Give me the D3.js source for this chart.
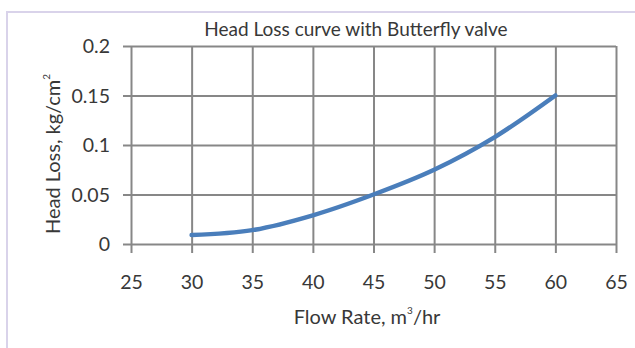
<!DOCTYPE html>
<html>
<head>
<meta charset="utf-8">
<script src="https://cdn.jsdelivr.net/npm/d3@7"></script>
<style>
  html, body { margin: 0; padding: 0; background: #fff; }
  svg { display: block; }
  text { font-family: Lato, "Open Sans", sans-serif; fill: #383838; }
</style>
</head>
<body>
<svg id="chart" width="635" height="348"></svg>
<script>
// Flow rate (m3/hr) and head loss (kg/cm2) for the butterfly valve
const flowRate = [30, 35, 40, 45, 50, 55, 60];
const headLoss = [0.009, 0.014, 0.029, 0.05, 0.075, 0.108, 0.15];
const xTicks = [25, 30, 35, 40, 45, 50, 55, 60, 65];
const yTicks = [0, 0.05, 0.1, 0.15, 0.2];

const svg = d3.select("#chart");

// outer chart frame
svg.append("rect")
  .attr("x", 7).attr("y", 12)
  .attr("width", 640).attr("height", 350)
  .attr("fill", "none")
  .attr("stroke", "#d9d3ea")
  .attr("stroke-width", 2);

const plot = { left: 131, right: 616, top: 46, bottom: 244 };

const x = d3.scaleLinear().domain([25, 65]).range([plot.left, plot.right]);
const y = d3.scaleLinear().domain([0, 0.2]).range([plot.bottom, plot.top]);

const gridColor = "#878787";
const tickFont = 19.5;
const textColor = "#383838";

// vertical gridlines with outward ticks (x axis)
const xAxis = d3.axisBottom(x)
  .tickValues(xTicks)
  .tickSize(-(plot.bottom - plot.top))
  .tickFormat(d3.format("d"));
const gx = svg.append("g")
  .attr("transform", `translate(0,${plot.bottom})`)
  .call(xAxis);
gx.select(".domain").remove();
gx.selectAll(".tick line")
  .attr("stroke", gridColor).attr("stroke-width", 2)
  .attr("y1", 9);
gx.selectAll(".tick text")
  .attr("y", 45)
  .attr("dy", 0)
  .attr("font-size", tickFont)
  .style("font-family", "Lato, 'Open Sans', sans-serif")
  .attr("fill", textColor);

// horizontal gridlines with outward ticks (y axis)
const yAxis = d3.axisLeft(y)
  .tickValues(yTicks)
  .tickSize(-(plot.right - plot.left))
  .tickFormat(d => d === 0 ? "0" : String(d));
const gy = svg.append("g")
  .attr("transform", `translate(${plot.left},0)`)
  .call(yAxis);
gy.select(".domain").remove();
gy.selectAll(".tick line")
  .attr("stroke", gridColor).attr("stroke-width", 2)
  .attr("x1", -8);
gy.selectAll(".tick text")
  .attr("x", -21)
  .attr("dy", "0.35em")
  .attr("font-size", tickFont)
  .style("font-family", "Lato, 'Open Sans', sans-serif")
  .attr("fill", textColor);

// head loss curve
const line = d3.line()
  .x((d, i) => x(flowRate[i]))
  .y(d => y(d))
  .curve(d3.curveCatmullRom.alpha(0.5));

svg.append("path")
  .datum(headLoss)
  .attr("d", line)
  .attr("fill", "none")
  .attr("stroke", "#4a7ebb")
  .attr("stroke-width", 4.5)
  .attr("stroke-linecap", "round")
  .attr("stroke-linejoin", "round");

// title
svg.append("text")
  .attr("x", 356).attr("y", 36)
  .attr("text-anchor", "middle")
  .attr("font-size", 19)
  .text("Head Loss curve with Butterfly valve");

// x axis title
const xt = svg.append("text")
  .attr("x", 367).attr("y", 324)
  .attr("text-anchor", "middle")
  .attr("font-size", 20);
xt.append("tspan").text("Flow Rate, m");
xt.append("tspan").attr("font-size", 10).attr("dy", -10).text("3");
xt.append("tspan").attr("dy", 10).text("/hr");

// y axis title
const yt = svg.append("text")
  .attr("transform", "translate(60,154) rotate(-90)")
  .attr("text-anchor", "middle")
  .attr("font-size", 20);
yt.append("tspan").text("Head Loss, kg/cm");
yt.append("tspan").attr("font-size", 10).attr("dy", -10).text("2");
</script>
</body>
</html>
